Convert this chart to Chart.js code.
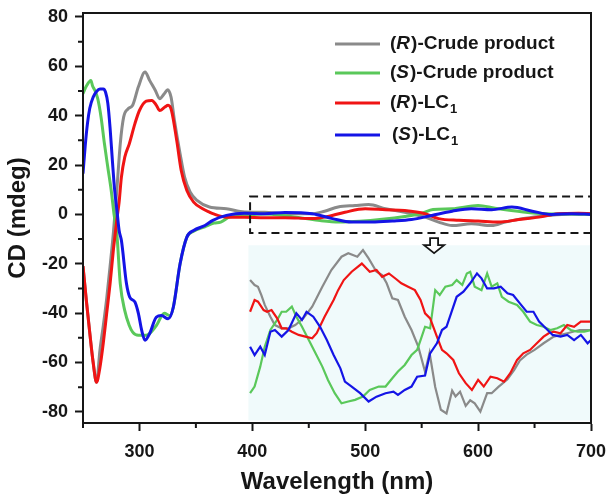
<!DOCTYPE html>
<html>
<head>
<meta charset="utf-8">
<script src="https://cdn.jsdelivr.net/npm/chart.js@4.4.1/dist/chart.umd.min.js"></script>
<style>
  body { margin: 0; background: #fff; }
</style>
</head>
<body>
<canvas id="cdChart" width="613" height="496"></canvas>
<script>
// ---- data (wavelength in nm, CD in mdeg) ----
const seriesNames = ["(R)-Crude product", "(S)-Crude product", "(R)-LC1", "(S)-LC1"];
const seriesColors = ["#8a8a8a", "#5ac85a", "#f01414", "#1414e6"];

const grayWl = [250,253,256,259,262,265,268,271,274,277,280,283,286,290,294,299,305,309,314,318,322,325,328,331,336,340,345,351,362,377,393,411,429,453,464,476,491,503,518,535,553,565,577,594,612,624,639,654,674,700];
const grayCd = [-21,-35,-48,-60,-68,-55,-45,-34,-21,-7,10,28.6,39.4,42.8,44.2,51.6,57.7,54.3,50.3,46.9,48.9,50.5,47.5,38.1,24.6,15.1,9,5.7,3,2.3,1.0,0.9,0.3,0.3,1.3,3.0,3.6,4.0,2.3,0.9,-1.1,-3.1,-4.5,-3.8,-4.5,-3.1,-1.7,-0.8,0,0.3];

const greenWl = [250,253,257,258.5,260.5,263,266,269,272,275,277.5,280,283,287,291,294,299,306,315,322,327,330,336,342,348,358,366,372,380,393,411,429,445,460,477,495,515,535,550,560,577,600,615,640,660,680,700];
const greenCd = [48.9,52,54.3,52,50.3,47,39.4,28.6,19,9.7,0,-8,-28,-39,-45,-47.7,-49,-49,-45,-40,-41,-37.6,-20,-9.2,-6.8,-5,-3.5,-3.1,-1,-0.3,0.2,-0.5,-1.5,-2.5,-3.1,-2.8,-2,-0.8,0.5,2.0,2.3,3.6,2.5,1.0,0.3,0.2,0];

const redWl = [250,253,256,259,262,265,268,271,274,277,280,282,284,287,291,296,300,306,311,315,318,322.5,325.4,328.4,333,337,342,348,356,362,365,377,393,411,429,453,464,482,500,518,535,553,565,583,600,618,636,654,671,689,700];
const redCd = [-21,-35,-48,-60,-68,-62,-52,-40,-28,-14,-2,5,15,23.2,28.6,36.8,42.1,45.9,46.2,44.2,42.1,43.5,44.2,42.1,30,17.8,9.7,5,2.3,0.9,0.3,-1.1,-1.1,-1.3,-1.3,-1.7,-1.1,0.9,2.3,1.9,1.6,0.3,-1.7,-2.4,-2.7,-3.1,-2.1,-1.1,0.3,0.5,0.3];

const blueWl = [250,252,254,256,259,262,265,268,270,272,274,276,278,280,282,284,288.5,291.4,296,299,302,305,309,315,319.5,325.4,330,336,342,348,358,365,377,393,411,429,453,471,488,506,524,541,559,577,594,612,630,648,665,683,700];
const blueCd = [16.5,28,37,43,47.5,49.8,50.8,50.8,49.5,45,35,22,10,2,-6.5,-10.5,-28,-33.5,-35.5,-40,-47,-51,-48.3,-41.6,-41,-42.3,-37.6,-20,-9.2,-6.5,-4.5,-2.4,-0.4,0.5,0.3,0.8,0.3,-1.7,-3.1,-3.1,-2.7,-2.1,-0.4,1.3,2.3,1.9,3.0,1.3,0,0.3,0];

// magnified inset (400-700 nm), values on the inset's own scale
const insetGrayWl = [398,402,405,408,411,416,420,426,432,438,445,453,462,470,479,485,493,498,503,510,515,519,524,529,535,541,547,553,557,562,567,572,577,580,584,589,593,597,602,608,612,618,626,632,637,643,650,658,667,679,690,700];
const insetGrayCd = [2.63,2.37,2.28,1.84,1.32,0.7,0.26,0.09,0.09,0.26,0.6,1.23,2.28,3.16,3.86,4.04,3.86,4.21,3.77,3.07,2.89,2.46,1.67,1.58,0.7,0,-0.88,-2.2,-1.2,-3.0,-4.2,-4.4,-3.2,-3.5,-3.25,-4.0,-3.7,-3.86,-4.3,-3.33,-3.33,-3.0,-2.6,-2.1,-1.6,-1.3,-1.05,-0.7,-0.35,-0.17,0,0];

const insetGreenWl = [398,402,407,411,416,422,426,430,435,439,444,450,456,462,467,473,479,485,491,498,504,512,518,524,529,535,541,546,549,553,557.5,562,566,571,577,581,586,590,593,597,603,608,612,617,621,627,634.5,640,646,652,658,664,670,676,682,688,694,700];
const insetGreenCd = [-3.33,-2.98,-1.93,-0.88,0,0.53,0.96,0.96,1.23,0.7,0.17,-0.53,-1.23,-1.93,-2.63,-3.33,-3.86,-3.77,-3.68,-3.51,-3.16,-2.98,-2.98,-2.54,-2.19,-1.84,-1.32,-1.05,-0.53,0.17,0.09,2.1,1.84,2.28,2.37,2.63,2.37,2.98,3.07,2.28,2.1,2.98,2.28,2.46,1.75,1.49,1.32,0.96,0.44,0.26,0.17,0,0.09,0.26,0,-0.09,-0.09,0];

const insetRedWl = [398,402,405,410,413,417,422,426,430,435,441,447,453,457,464,472,476,481,488,497,504,510,515,521,527,532,538,544,549,553,557.5,563.5,568,572,578,583,589,594.5,600,605,611,617,623,628.5,634.5,640,646,652,658,662.5,667,673,679,685,691,697,700];
const insetRedCd = [0.96,1.58,1.49,1.05,0.96,1.05,0.61,0.09,0.09,-0.09,-0.26,-0.35,-0.44,-0.17,0.7,1.58,2.1,2.63,3.07,3.5,3.07,3.16,2.8,2.98,2.7,2.46,2.28,2.1,1.58,0.88,0.61,-0.35,-1.05,-1.23,-1.58,-2.28,-2.8,-3.16,-2.63,-2.98,-2.46,-2.54,-2.72,-2.28,-1.58,-1.23,-1.05,-0.7,-0.35,-0.17,-0.09,-0.17,0.26,0.17,0.44,0.44,0.44];

const insetBlueWl = [398,402,407,411,416,420,426,432,439,444,448,454,460,466,472,478,482,488,495.5,503,510,518,525,529,535,541,546,553,557.5,563.5,568,572,577,581,587,593,599,603,608,614,620,626,631,637,643,649,654,660,666,673,679,685,691,697,700];
const insetBlueCd = [-0.88,-1.32,-0.88,-1.32,-0.09,0,-0.35,0,0.88,0.53,0.96,0.7,0.17,-0.53,-1.32,-2.02,-2.72,-2.98,-3.33,-3.77,-3.51,-3.33,-3.25,-3.42,-3.16,-2.98,-2.46,-2.4,-1.23,-0.7,0,0.17,1.05,1.75,2.02,2.46,2.98,2.72,2.19,2.19,2.28,1.93,1.84,1.4,0.96,0.96,0.44,0.09,-0.26,-0.35,-0.26,-0.53,-0.26,-0.7,-0.53];

const xTicks = [300, 400, 500, 600, 700];
const xMinor = [250, 350, 450, 550, 650];
const yTicks = [-80, -60, -40, -20, 0, 20, 40, 60, 80];
const yMinor = [-70, -50, -30, -10, 10, 30, 50, 70];

const FONT = "'Liberation Sans', Arial, sans-serif";
const INK = "#161616";

const toPts = (xs, ys) => xs.map((x, i) => ({ x: x, y: ys[i] }));

function mainSet(i, wl, cd) {
  return {
    label: seriesNames[i],
    data: toPts(wl, cd),
    borderColor: seriesColors[i],
    borderWidth: 3,
    pointRadius: 0,
    cubicInterpolationMode: "monotone",
    order: 4 - i,
    yAxisID: "y",
  };
}
function insetSet(i, wl, cd) {
  return {
    label: seriesNames[i] + " (inset)",
    data: toPts(wl, cd),
    borderColor: seriesColors[i],
    borderWidth: 2.2,
    pointRadius: 0,
    tension: 0,
    order: 4 - i,
    yAxisID: "yIn",
  };
}

// draws "(R)-LC1" style labels: italic letter, subscript digit
function drawLabel(ctx, text, x, y) {
  const m = text.match(/^\((\w)\)(.*?)(\d?)$/);
  const bold = "bold 19px " + FONT;
  ctx.textBaseline = "middle";
  ctx.textAlign = "left";
  ctx.fillStyle = INK;
  ctx.font = bold;
  ctx.fillText("(", x, y);
  x += ctx.measureText("(").width;
  ctx.font = "italic bold 19px " + FONT;
  ctx.fillText(m[1], x, y);
  x += ctx.measureText(m[1]).width + 1;
  ctx.font = bold;
  const rest = ")" + m[2];
  ctx.fillText(rest, x, y);
  x += ctx.measureText(rest).width;
  if (m[3]) {
    ctx.font = "bold 13px " + FONT;
    ctx.fillText(m[3], x + 1, y + 6);
  }
}

const insetBox = { x0: 396.5, x1: 700, y0: -12.5, y1: -83.5 };
const zoomBox = { x0: 398, x1: 700, y0: 7.3, y1: -7.5 };
const arrowAt = { x: 561, y: -9.6 };

const decor = {
  id: "decor",
  beforeDatasetsDraw(chart) {
    const { ctx, scales: { x, y } } = chart;
    ctx.save();
    ctx.fillStyle = "#f0fafb";
    const l = x.getPixelForValue(insetBox.x0), r = x.getPixelForValue(insetBox.x1);
    const t = y.getPixelForValue(insetBox.y0), b = y.getPixelForValue(insetBox.y1);
    ctx.fillRect(l, t, r - l, b - t);
    ctx.restore();
  },
  afterDatasetsDraw(chart) {
    const { ctx, chartArea: a, scales: { x, y } } = chart;
    ctx.save();

    // dashed box round the 400-700 nm region
    ctx.strokeStyle = INK;
    ctx.lineWidth = 2;
    ctx.setLineDash([8, 5]);
    const l = x.getPixelForValue(zoomBox.x0), r = x.getPixelForValue(zoomBox.x1);
    const t = y.getPixelForValue(zoomBox.y0), b = y.getPixelForValue(zoomBox.y1);
    ctx.strokeRect(l, t, r - l, b - t);
    ctx.setLineDash([]);

    // hollow arrow pointing at the inset
    const ax = x.getPixelForValue(arrowAt.x), ay = y.getPixelForValue(arrowAt.y);
    ctx.beginPath();
    ctx.moveTo(ax - 4, ay);
    ctx.lineTo(ax + 4, ay);
    ctx.lineTo(ax + 4, ay + 7);
    ctx.lineTo(ax + 10, ay + 7);
    ctx.lineTo(ax, ay + 15);
    ctx.lineTo(ax - 10, ay + 7);
    ctx.lineTo(ax - 4, ay + 7);
    ctx.closePath();
    ctx.fillStyle = "#fff";
    ctx.fill();
    ctx.lineWidth = 1.8;
    ctx.stroke();

    // frame
    ctx.lineWidth = 2;
    ctx.strokeRect(a.left, a.top, a.right - a.left, a.bottom - a.top);

    // minor ticks
    ctx.beginPath();
    yMinor.forEach(v => {
      const py = y.getPixelForValue(v);
      ctx.moveTo(a.left - 5, py);
      ctx.lineTo(a.left, py);
    });
    xMinor.forEach(v => {
      const px = x.getPixelForValue(v);
      ctx.moveTo(px, a.bottom);
      ctx.lineTo(px, a.bottom + 5);
    });
    ctx.stroke();

    // legend
    const rows = [44, 73, 103, 135];
    seriesNames.forEach((name, i) => {
      ctx.strokeStyle = seriesColors[i];
      ctx.lineWidth = 3;
      ctx.beginPath();
      ctx.moveTo(335, rows[i]);
      ctx.lineTo(380, rows[i]);
      ctx.stroke();
      drawLabel(ctx, name, i === 3 ? 392 : 390, rows[i]);
    });
    ctx.restore();
  },
};

const tickFont = { family: FONT, size: 18, weight: "bold" };

new Chart(document.getElementById("cdChart"), {
  type: "line",
  data: {
    datasets: [
      mainSet(0, grayWl, grayCd),
      mainSet(1, greenWl, greenCd),
      mainSet(2, redWl, redCd),
      mainSet(3, blueWl, blueCd),
      insetSet(0, insetGrayWl, insetGrayCd),
      insetSet(1, insetGreenWl, insetGreenCd),
      insetSet(2, insetRedWl, insetRedCd),
      insetSet(3, insetBlueWl, insetBlueCd),
    ],
  },
  options: {
    responsive: false,
    animation: false,
    devicePixelRatio: 1,
    layout: { padding: { top: 13, right: 22, left: 0, bottom: 0 } },
    plugins: { legend: { display: false }, tooltip: { enabled: false } },
    scales: {
      x: {
        type: "linear",
        min: 250,
        max: 700,
        afterBuildTicks: (s) => { s.ticks = xTicks.map(v => ({ value: v })); },
        afterFit: (s) => { s.height = 73; s.paddingLeft = 0; s.paddingRight = 0; },
        ticks: { color: INK, font: tickFont, padding: 10, maxRotation: 0, callback: (v) => String(v) },
        grid: { display: true, drawOnChartArea: false, tickLength: 8, tickColor: INK, tickWidth: 2 },
        border: { display: true, color: INK, width: 2 },
        title: {
          display: true,
          text: "Wavelength (nm)",
          color: INK,
          font: { family: FONT, size: 24, weight: "bold" },
          padding: { top: 0, bottom: -1 },
        },
      },
      y: {
        type: "linear",
        min: -84.5,
        max: 81.6,
        afterBuildTicks: (s) => { s.ticks = yTicks.map(v => ({ value: v })); },
        afterFit: (s) => { s.width = 83; s.paddingTop = 0; s.paddingBottom = 0; },
        ticks: { color: INK, font: tickFont, padding: 7, callback: (v) => String(v) },
        grid: { display: true, drawOnChartArea: false, tickLength: 8, tickColor: INK, tickWidth: 2 },
        border: { display: true, color: INK, width: 2 },
        title: {
          display: true,
          text: "CD (mdeg)",
          color: INK,
          font: { family: FONT, size: 24, weight: "bold" },
          padding: { top: 4, bottom: 0 },
        },
      },
      yIn: {
        type: "linear",
        display: false,
        min: -4.9,
        max: 16.7,
      },
    },
  },
  plugins: [decor],
});
</script>
</body>
</html>
